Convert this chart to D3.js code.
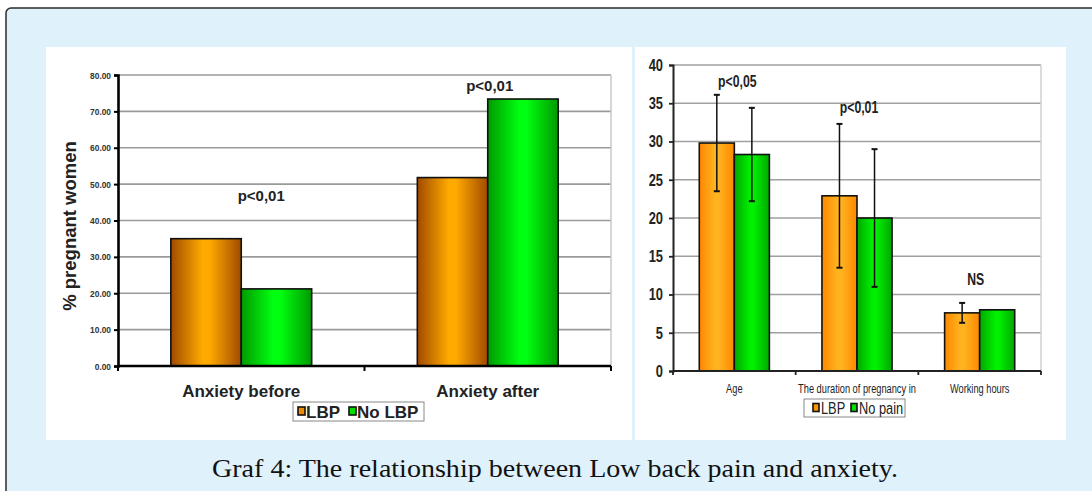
<!DOCTYPE html>
<html>
<head>
<meta charset="utf-8">
<script src="https://cdn.jsdelivr.net/npm/d3@7"></script>
<style>
  html, body { margin: 0; padding: 0; background: #ffffff; }
  svg { display: block; }
</style>
</head>
<body>
<svg id="chart" width="1092" height="491"></svg>
<script>
// ---- Left panel: anxiety before / after ----
const anxietyCategories = ["Anxiety before", "Anxiety after"];
const anxietySeries = ["LBP", "No LBP"];
const anxietyLBP = [35.0, 51.8];
const anxietyNoLBP = [21.2, 73.4];
const anxietyTicks = [0, 10, 20, 30, 40, 50, 60, 70, 80];
const anxietyNotes = ["p<0,01", "p<0,01"];

// ---- Right panel: age, pregnancy duration, working hours ----
const factorCategories = ["Age", "The duration of pregnancy in", "Working hours"];
const factorSeries = ["LBP", "No pain"];
const factorLBP = [29.8, 22.9, 7.6];
const factorLBPsd = [6.3, 9.4, 1.3];
const factorNoPain = [28.3, 20.0, 8.0];
const factorNoPainSd = [6.1, 9.0, null];
const factorTicks = [0, 5, 10, 15, 20, 25, 30, 35, 40];
const factorNotes = ["p<0,05", "p<0,01", "NS"];

const caption = "Graf 4: The relationship between Low back pain and anxiety.";

const svg = d3.select("#chart");
const defs = svg.append("defs");
const sans = "'Liberation Sans', Arial, sans-serif";

// squeeze a text selection horizontally to imitate a narrow typeface
function condense(sel, f) {
  sel.each(function () {
    const w = this.getComputedTextLength();
    d3.select(this).attr("textLength", w * f).attr("lengthAdjust", "spacingAndGlyphs");
  });
}

function hGradient(id, edge, mid) {
  const g = defs.append("linearGradient").attr("id", id)
    .attr("x1", "0%").attr("x2", "100%").attr("y1", "0%").attr("y2", "0%");
  g.append("stop").attr("offset", "0%").attr("stop-color", edge);
  g.append("stop").attr("offset", "45%").attr("stop-color", mid);
  g.append("stop").attr("offset", "55%").attr("stop-color", mid);
  g.append("stop").attr("offset", "100%").attr("stop-color", edge);
}
hGradient("gBrown", "#a04a00", "#ffaa00");
hGradient("gGreenL", "#009a00", "#00ff10");
hGradient("gOrange", "#ff8800", "#ffb320");
hGradient("gGreenR", "#00a800", "#00f000");

// Frame and backdrop
svg.append("rect").attr("x", 6).attr("y", 8).attr("width", 1100).attr("height", 500)
  .attr("rx", 5).attr("fill", "#dff1fb").attr("stroke", "#2b2b2b").attr("stroke-width", 1.5);
svg.append("rect").attr("x", 46).attr("y", 47).attr("width", 586).attr("height", 393).attr("fill", "#ffffff");
svg.append("rect").attr("x", 635).attr("y", 47).attr("width", 431).attr("height", 393).attr("fill", "#ffffff");

svg.append("text").attr("x", 555).attr("y", 477)
  .attr("text-anchor", "middle")
  .attr("font-family", "'Liberation Serif', 'DejaVu Serif', serif")
  .attr("font-size", 26).attr("fill", "#111")
  .attr("textLength", 686).attr("lengthAdjust", "spacingAndGlyphs")
  .text(caption);

// ================= Left chart =================
(function () {
  const left = 118, right = 611, top = 75, bottom = 366;
  const y = d3.scaleLinear().domain([0, 80]).range([bottom, top]);
  const x0 = d3.scaleBand().domain(anxietyCategories).range([left, right]).padding(0);
  const x1 = d3.scaleBand().domain(anxietySeries).range([0, x0.bandwidth()]).paddingOuter(0.75).paddingInner(0);
  const g = svg.append("g");

  // grid
  g.append("g").selectAll("line").data(anxietyTicks.filter(d => d > 0)).join("line")
    .attr("x1", left).attr("x2", right).attr("y1", d => y(d)).attr("y2", d => y(d))
    .attr("stroke", "#9a9a9a").attr("stroke-width", 1.6);
  g.append("line").attr("x1", right).attr("x2", right).attr("y1", top).attr("y2", bottom)
    .attr("stroke", "#c8c8c8").attr("stroke-width", 1.5);

  // bars
  const fills = ["url(#gBrown)", "url(#gGreenL)"];
  const vals = [anxietyLBP, anxietyNoLBP];
  anxietyCategories.forEach((c, i) => {
    anxietySeries.forEach((s, j) => {
      const v = vals[j][i];
      g.append("rect")
        .attr("x", x0(c) + x1(s)).attr("y", y(v))
        .attr("width", x1.bandwidth()).attr("height", y(0) - y(v))
        .attr("fill", fills[j]).attr("stroke", "#111").attr("stroke-width", 1.6);
    });
  });

  // axes
  const yAxis = d3.axisLeft(y).tickValues(anxietyTicks).tickFormat(d3.format(".2f")).tickSize(4).tickPadding(3);
  const ya = g.append("g").attr("transform", `translate(${left},0)`).call(yAxis);
  ya.select(".domain").attr("stroke", "#000").attr("stroke-width", 2.6);
  ya.selectAll(".tick line").attr("stroke", "#000").attr("stroke-width", 2);
  ya.selectAll("text").attr("font-family", sans).attr("font-size", 9.5).attr("font-weight", "bold").attr("fill", "#333");
  condense(ya.selectAll("text"), 0.88);

  g.append("line").attr("x1", left).attr("x2", right).attr("y1", bottom).attr("y2", bottom)
    .attr("stroke", "#000").attr("stroke-width", 2.6);
  const xTicks = [left, ...anxietyCategories.slice(1).map(c => x0(c)), right];
  g.append("g").selectAll("line").data(xTicks).join("line")
    .attr("x1", d => d).attr("x2", d => d).attr("y1", bottom).attr("y2", bottom + 5)
    .attr("stroke", "#000").attr("stroke-width", 2);

  g.append("g").selectAll("text").data(anxietyCategories).join("text")
    .attr("x", d => x0(d) + x0.bandwidth() / 2).attr("y", 397)
    .attr("text-anchor", "middle").attr("font-family", sans).attr("font-size", 17)
    .attr("font-weight", "bold").attr("fill", "#222").text(d => d);

  g.append("text").attr("transform", "translate(76,226) rotate(-90)")
    .attr("text-anchor", "middle").attr("font-family", sans).attr("font-size", 18.5)
    .attr("font-weight", "bold").attr("fill", "#222").text("% pregnant women");

  // significance notes
  const noteY = [y(45.3), y(d3.max([anxietyLBP[1], anxietyNoLBP[1]])) - 8];
  const noteDx = [20, 2];
  g.append("g").selectAll("text").data(anxietyNotes).join("text")
    .attr("x", (d, i) => x0(anxietyCategories[i]) + x0.bandwidth() / 2 + noteDx[i])
    .attr("y", (d, i) => noteY[i])
    .attr("text-anchor", "middle").attr("font-family", sans).attr("font-size", 15)
    .attr("font-weight", "bold").attr("fill", "#222").text(d => d);

  // legend
  const lg = g.append("g").attr("transform", "translate(293,402)");
  lg.append("rect").attr("width", 131).attr("height", 19).attr("fill", "#fff")
    .attr("stroke", "#888").attr("stroke-width", 1);
  const legX = [5, 56];
  const legFill = ["#f08a00", "#00e000"];
  anxietySeries.forEach((s, i) => {
    lg.append("rect").attr("x", legX[i]).attr("y", 5).attr("width", 7).attr("height", 8)
      .attr("fill", legFill[i]).attr("stroke", "#111").attr("stroke-width", 1.6);
    lg.append("text").attr("x", legX[i] + 8).attr("y", 16)
      .attr("font-family", sans).attr("font-size", 17).attr("font-weight", "bold")
      .attr("fill", "#222").text(s);
  });
})();

// ================= Right chart =================
(function () {
  const left = 673, right = 1041, top = 65, bottom = 371;
  const y = d3.scaleLinear().domain([0, 40]).range([bottom, top]);
  const x0 = d3.scaleBand().domain(factorCategories).range([left, right]).padding(0);
  const x1 = d3.scaleBand().domain(factorSeries).range([0, x0.bandwidth()]).paddingOuter(0.75).paddingInner(0);
  const g = svg.append("g");

  g.append("g").selectAll("line").data(factorTicks.filter(d => d > 0)).join("line")
    .attr("x1", left).attr("x2", right).attr("y1", d => y(d)).attr("y2", d => y(d))
    .attr("stroke", "#a0a0a0").attr("stroke-width", 1.6);
  g.append("line").attr("x1", right).attr("x2", right).attr("y1", top).attr("y2", bottom)
    .attr("stroke", "#d0d0d0").attr("stroke-width", 1.5);

  const fills = ["url(#gOrange)", "url(#gGreenR)"];
  const means = [factorLBP, factorNoPain];
  const sds = [factorLBPsd, factorNoPainSd];
  factorCategories.forEach((c, i) => {
    factorSeries.forEach((s, j) => {
      const v = means[j][i];
      g.append("rect")
        .attr("x", x0(c) + x1(s)).attr("y", y(v))
        .attr("width", x1.bandwidth()).attr("height", y(0) - y(v))
        .attr("fill", fills[j]).attr("stroke", "#111").attr("stroke-width", 1.6);
    });
  });
  // error bars
  factorCategories.forEach((c, i) => {
    factorSeries.forEach((s, j) => {
      const sd = sds[j][i];
      if (sd == null) return;
      const v = means[j][i];
      const cx = x0(c) + x1(s) + x1.bandwidth() / 2;
      g.append("line").attr("x1", cx).attr("x2", cx).attr("y1", y(v + sd)).attr("y2", y(v - sd))
        .attr("stroke", "#111").attr("stroke-width", 1.5);
      [v + sd, v - sd].forEach(e => {
        g.append("line").attr("x1", cx - 3).attr("x2", cx + 3).attr("y1", y(e)).attr("y2", y(e))
          .attr("stroke", "#111").attr("stroke-width", 2);
      });
    });
  });

  const yAxis = d3.axisLeft(y).tickValues(factorTicks).tickSize(4).tickPadding(6);
  const ya = g.append("g").attr("transform", `translate(${left},0)`).call(yAxis);
  ya.select(".domain").attr("stroke", "#222").attr("stroke-width", 2);
  ya.selectAll(".tick line").attr("stroke", "#222").attr("stroke-width", 1.8);
  ya.selectAll("text").attr("font-family", sans).attr("font-size", 16.5).attr("font-weight", "bold")
    .attr("fill", "#222");
  condense(ya.selectAll("text"), 0.78);

  g.append("line").attr("x1", left).attr("x2", right).attr("y1", bottom).attr("y2", bottom)
    .attr("stroke", "#222").attr("stroke-width", 2);
  const xTicks = [left, ...factorCategories.slice(1).map(c => x0(c)), right];
  g.append("g").selectAll("line").data(xTicks).join("line")
    .attr("x1", d => d).attr("x2", d => d).attr("y1", bottom).attr("y2", bottom + 4)
    .attr("stroke", "#222").attr("stroke-width", 1.8);

  const cats = g.append("g").selectAll("text").data(factorCategories).join("text")
    .attr("x", d => x0(d) + x0.bandwidth() / 2).attr("y", 393)
    .attr("text-anchor", "middle").attr("font-family", sans).attr("font-size", 12.5)
    .attr("fill", "#222").text(d => d);
  condense(cats, 0.74);

  // significance notes
  const noteLevel = [38.0, 34.6, 12.1];
  const noteDx = [3, 2, -4];
  const notes = g.append("g").selectAll("text").data(factorNotes).join("text")
    .attr("x", (d, i) => x0(factorCategories[i]) + x0.bandwidth() / 2 + noteDx[i])
    .attr("y", (d, i) => y(noteLevel[i]) + 6.5)
    .attr("text-anchor", "middle").attr("font-family", sans).attr("font-size", 17)
    .attr("font-weight", "bold").attr("fill", "#222").text(d => d);
  condense(notes, 0.72);

  // legend
  const lg = g.append("g").attr("transform", "translate(804,399)");
  lg.append("rect").attr("width", 101).attr("height", 18).attr("fill", "#fff")
    .attr("stroke", "#888").attr("stroke-width", 1);
  const legX = [9, 47];
  const legFill = ["#ff9500", "#00e000"];
  factorSeries.forEach((s, i) => {
    lg.append("rect").attr("x", legX[i]).attr("y", 4.5).attr("width", 6).attr("height", 8)
      .attr("fill", legFill[i]).attr("stroke", "#111").attr("stroke-width", 1.6);
    const t = lg.append("text").attr("x", legX[i] + 8).attr("y", 15)
      .attr("font-family", sans).attr("font-size", 16)
      .attr("fill", "#222").text(s);
    condense(t, 0.8);
  });
})();
</script>
</body>
</html>
